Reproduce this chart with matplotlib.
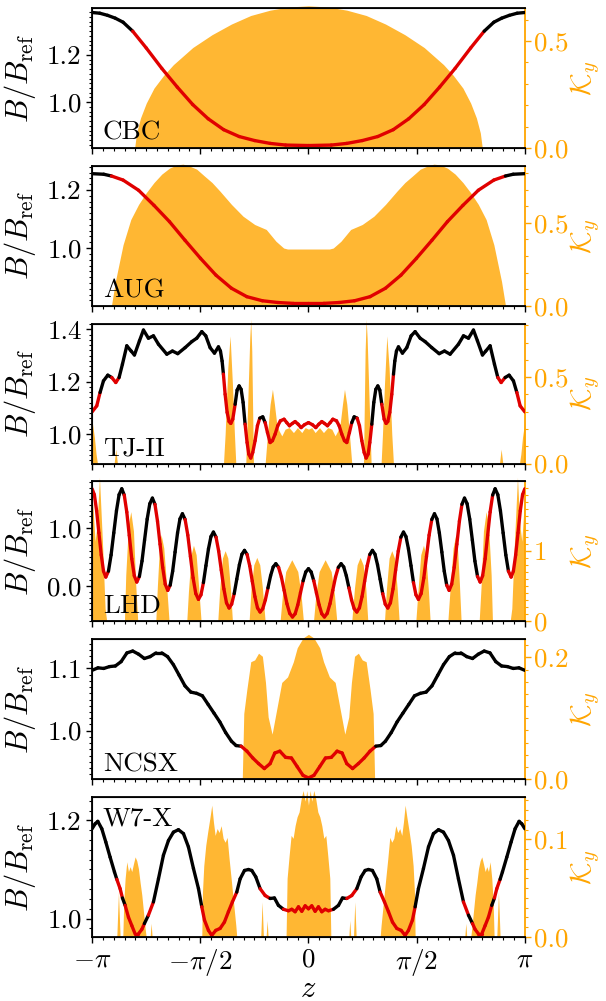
import numpy as np
import matplotlib
matplotlib.use('Agg')
import matplotlib.pyplot as plt
from matplotlib.collections import LineCollection
from matplotlib.ticker import MultipleLocator, FormatStrFormatter

plt.rcParams['font.family'] = 'serif'
plt.rcParams['font.serif'] = ['cmr10']
plt.rcParams['mathtext.fontset'] = 'cm'
plt.rcParams['axes.unicode_minus'] = False
plt.rcParams['axes.formatter.use_mathtext'] = True

# ---------------- datos ----------------
# CBC
zB_cbc = [-3.142, -3.030, -2.917, -2.805, -2.692, -2.552, -2.355, -2.130, -1.905, -1.680, -1.456, -1.231,
          -1.006, -0.781, -0.556, -0.332, 0.0, 0.332, 0.556, 0.781, 1.006, 1.231, 1.456, 1.680, 1.905,
          2.130, 2.355, 2.552, 2.692, 2.805, 2.917, 3.030, 3.142]
B_cbc = [1.379, 1.376, 1.367, 1.355, 1.338, 1.300, 1.229, 1.143, 1.064, 0.990, 0.930, 0.884,
         0.855, 0.838, 0.826, 0.819, 0.817, 0.819, 0.826, 0.838, 0.855, 0.884, 0.930, 0.990, 1.064,
         1.143, 1.229, 1.300, 1.338, 1.355, 1.367, 1.376, 1.379]
zK_cbc = [-2.524, -2.496, -2.439, -2.355, -2.243, -2.102, -1.961, -1.680, -1.400, -1.118, -0.838, -0.556,
          -0.275, 0.0, 0.275, 0.556, 0.838, 1.118, 1.400, 1.680, 1.961, 2.102, 2.243, 2.355, 2.439,
          2.496, 2.524]
K_cbc = [0.0, 0.07, 0.14, 0.21, 0.28, 0.34, 0.39, 0.47, 0.53, 0.58, 0.62, 0.645,
         0.66, 0.665, 0.66, 0.645, 0.62, 0.58, 0.53, 0.47, 0.39, 0.34, 0.28, 0.21, 0.14,
         0.07, 0.0]
red_cbc = [(-2.55, 2.55)]

# AUG
zB_aug = [-3.142, -2.973, -2.861, -2.692, -2.467, -2.243, -2.018, -1.793, -1.568, -1.343, -1.118, -0.894,
          -0.669, -0.444, -0.219, 0.0, 0.219, 0.444, 0.669, 0.894, 1.118, 1.343, 1.568, 1.793, 2.018,
          2.243, 2.467, 2.692, 2.861, 2.973, 3.142]
B_aug = [1.256, 1.254, 1.248, 1.234, 1.199, 1.147, 1.091, 1.027, 0.965, 0.907, 0.862, 0.833,
         0.819, 0.813, 0.810, 0.810, 0.810, 0.813, 0.819, 0.833, 0.862, 0.907, 0.965, 1.027, 1.091,
         1.147, 1.199, 1.234, 1.248, 1.254, 1.256]
zK_aug = [-2.861, -2.804, -2.692, -2.580, -2.467, -2.355, -2.243, -2.130, -2.018, -1.905, -1.821, -1.737,
          -1.624, -1.512, -1.400, -1.287, -1.118, -0.950, -0.781, -0.613, -0.472, -0.360, -0.304, -0.163,
          0.0,
          0.163, 0.304, 0.360, 0.472, 0.613, 0.781, 0.950, 1.118, 1.287, 1.400, 1.512, 1.624,
          1.737, 1.821, 1.905, 2.018, 2.130, 2.243, 2.355, 2.467, 2.580, 2.692, 2.804, 2.861]
K_aug = [0.0, 0.146, 0.368, 0.520, 0.611, 0.682, 0.743, 0.794, 0.830, 0.850, 0.854, 0.844,
         0.824, 0.783, 0.743, 0.692, 0.611, 0.540, 0.490, 0.460, 0.389, 0.348, 0.342, 0.342,
         0.342,
         0.342, 0.342, 0.348, 0.389, 0.460, 0.490, 0.540, 0.611, 0.692, 0.743, 0.783, 0.824,
         0.844, 0.854, 0.850, 0.830, 0.794, 0.743, 0.682, 0.611, 0.520, 0.368, 0.146, 0.0]
red_aug = [(-2.89, 2.89)]

# TJ-II
zB_tj = [-3.142, -3.074, -3.026, -2.977, -2.914, -2.856, -2.798, -2.750, -2.701, -2.638, -2.575, -2.527,
         -2.454, -2.396, -2.324, -2.251, -2.178, -2.057, -1.975, -1.898, -1.791, -1.694, -1.622, -1.549,
         -1.491, -1.428, -1.365, -1.307, -1.278, -1.254, -1.235, -1.210, -1.181, -1.152, -1.128, -1.099,
         -1.065, -1.036, -1.007, -0.978, -0.949, -0.920, -0.891, -0.867, -0.838, -0.809, -0.775, -0.741,
         -0.707, -0.664, -0.629, -0.595, -0.557, -0.523, -0.484, -0.446, -0.407, -0.354, -0.315, -0.276,
         -0.233, -0.194, -0.150, -0.107, -0.058,
         0.0,
         0.058, 0.107, 0.150, 0.194, 0.233, 0.276, 0.315, 0.354, 0.407, 0.446, 0.484, 0.523,
         0.557, 0.595, 0.629, 0.664, 0.707, 0.741, 0.775, 0.809, 0.838, 0.867, 0.891, 0.920,
         0.949, 0.978, 1.007, 1.036, 1.065, 1.099, 1.128, 1.152, 1.181, 1.210, 1.235, 1.254,
         1.278, 1.307, 1.365, 1.428, 1.491, 1.549, 1.622, 1.694, 1.791, 1.898, 1.975, 2.057,
         2.178, 2.251, 2.324, 2.396, 2.454, 2.527, 2.575, 2.638, 2.701, 2.750, 2.798, 2.856,
         2.914, 2.977, 3.026, 3.074, 3.142]
B_tj = [1.085, 1.108, 1.159, 1.203, 1.225, 1.216, 1.197, 1.216, 1.267, 1.337, 1.317, 1.302,
        1.356, 1.397, 1.366, 1.375, 1.343, 1.305, 1.317, 1.307, 1.330, 1.353, 1.366, 1.391,
        1.375, 1.330, 1.309, 1.333, 1.317, 1.279, 1.229, 1.152, 1.083, 1.048, 1.041, 1.057,
        1.114, 1.168, 1.184, 1.171, 1.121, 1.038, 0.968, 0.924, 0.909, 0.930, 0.975, 1.032,
        1.061, 1.066, 1.044, 1.006, 0.968, 0.975, 1.000, 1.032, 1.051, 1.057, 1.044, 1.032,
        1.041, 1.048, 1.038, 1.025, 1.036,
        1.044,
        1.036, 1.025, 1.038, 1.048, 1.041, 1.032, 1.044, 1.057, 1.051, 1.032, 1.000, 0.975,
        0.968, 1.006, 1.044, 1.066, 1.061, 1.032, 0.975, 0.930, 0.909, 0.924, 0.968, 1.038,
        1.121, 1.171, 1.184, 1.168, 1.114, 1.057, 1.041, 1.048, 1.083, 1.152, 1.229, 1.279,
        1.317, 1.333, 1.309, 1.330, 1.375, 1.391, 1.366, 1.353, 1.330, 1.307, 1.317, 1.305,
        1.343, 1.375, 1.366, 1.397, 1.356, 1.302, 1.317, 1.337, 1.267, 1.216, 1.197, 1.216,
        1.225, 1.203, 1.159, 1.108, 1.085]
zK_tj = [-3.142, -3.108, -3.084, -3.064, -2.822, -2.798, -2.774, -1.234, -1.210, -1.171, -1.138, -1.104,
         -1.075, -1.055, -0.910, -0.881, -0.852, -0.838, -0.823, -0.799, -0.629, -0.591, -0.557, -0.523,
         -0.494, -0.460, -0.426, -0.387, -0.339, -0.281, -0.218, -0.160, -0.097, -0.048,
         0.0,
         0.048, 0.097, 0.160, 0.218, 0.281, 0.339, 0.387, 0.426, 0.460, 0.494, 0.523, 0.557,
         0.591, 0.629, 0.799, 0.823, 0.838, 0.852, 0.881, 0.910, 1.055, 1.075, 1.104, 1.138,
         1.171, 1.210, 1.234, 2.774, 2.798, 2.822, 3.064, 3.084, 3.108, 3.142]
K_tj = [0.247, 0.150, 0.054, 0.0, 0.0, 0.083, 0.0, 0.0, 0.17, 0.555, 0.739, 0.459,
        0.17, 0.0, 0.0, 0.363, 0.729, 0.835, 0.652, 0.0, 0.0, 0.189, 0.343, 0.43,
        0.343, 0.228, 0.189, 0.16, 0.199, 0.208, 0.179, 0.208, 0.179, 0.208,
        0.199,
        0.208, 0.179, 0.208, 0.179, 0.208, 0.199, 0.16, 0.189, 0.228, 0.343, 0.43, 0.343,
        0.189, 0.0, 0.0, 0.652, 0.835, 0.729, 0.363, 0.0, 0.0, 0.17, 0.459, 0.739,
        0.555, 0.17, 0.0, 0.0, 0.083, 0.0, 0.0, 0.054, 0.150, 0.247]
red_tj = [(-3.2, -3.026), (-2.84, -2.755), (-1.235, -1.075), (-0.93, -0.717), (-0.629, 0.629),
          (0.717, 0.93), (1.075, 1.235), (2.755, 2.84), (3.026, 3.2)]

# LHD
zB_lhd = [-3.142, -3.109, -3.076, -3.043, -3.009, -2.976,
          -2.943, -2.904, -2.866, -2.827, -2.788, -2.750,
          -2.711, -2.675, -2.638, -2.602, -2.566, -2.529,
          -2.493, -2.455, -2.417, -2.380, -2.342, -2.304,
          -2.266, -2.229, -2.192, -2.155, -2.117, -2.080,
          -2.043, -2.008, -1.972, -1.937, -1.901, -1.866,
          -1.830, -1.791, -1.752, -1.714, -1.675, -1.636,
          -1.597, -1.561, -1.525, -1.489, -1.452, -1.416,
          -1.380, -1.342, -1.304, -1.266, -1.228, -1.190,
          -1.152, -1.115, -1.078, -1.041, -1.003, -0.966,
          -0.929, -0.891, -0.853, -0.816, -0.778, -0.740,
          -0.702, -0.664, -0.626, -0.588, -0.550, -0.512,
          -0.474, -0.434, -0.393, -0.353, -0.313, -0.272,
          -0.232, -0.193, -0.155, -0.116, -0.077, -0.039,
          0.0,
          0.039, 0.077, 0.116, 0.155, 0.193, 0.232,
          0.272, 0.313, 0.353, 0.393, 0.434, 0.474,
          0.512, 0.550, 0.588, 0.626, 0.664, 0.702,
          0.740, 0.778, 0.816, 0.853, 0.891, 0.929,
          0.966, 1.003, 1.041, 1.078, 1.115, 1.152,
          1.190, 1.228, 1.266, 1.304, 1.342, 1.380,
          1.416, 1.452, 1.489, 1.525, 1.561, 1.597,
          1.636, 1.675, 1.714, 1.752, 1.791, 1.830,
          1.866, 1.901, 1.937, 1.972, 2.008, 2.043,
          2.080, 2.117, 2.155, 2.192, 2.229, 2.266,
          2.304, 2.342, 2.380, 2.417, 2.455, 2.493,
          2.529, 2.566, 2.602, 2.638, 2.675, 2.711,
          2.750, 2.788, 2.827, 2.866, 2.904, 2.943,
          2.976, 3.009, 3.043, 3.076, 3.109, 3.142]
B_lhd = [1.678, 1.576, 1.297, 0.917, 0.536, 0.257,
         0.155, 0.257, 0.536, 0.917, 1.297, 1.576,
         1.678, 1.570, 1.276, 0.874, 0.471, 0.177,
         0.069, 0.166, 0.431, 0.793, 1.155, 1.420,
         1.517, 1.410, 1.119, 0.721, 0.323, 0.032,
         -0.075, 0.014, 0.256, 0.586, 0.916, 1.158,
         1.247, 1.148, 0.878, 0.509, 0.139, -0.131,
         -0.230, -0.152, 0.060, 0.351, 0.641, 0.853,
         0.931, 0.843, 0.603, 0.276, -0.051, -0.291,
         -0.379, -0.312, -0.130, 0.118, 0.366, 0.548,
         0.615, 0.544, 0.349, 0.084, -0.182, -0.377,
         -0.448, -0.392, -0.240, -0.032, 0.177, 0.329,
         0.385, 0.323, 0.155, -0.075, -0.304, -0.472,
         -0.534, -0.478, -0.326, -0.118, 0.091, 0.243,
         0.299,
         0.243, 0.091, -0.118, -0.326, -0.478, -0.534,
         -0.472, -0.304, -0.075, 0.155, 0.323, 0.385,
         0.329, 0.177, -0.032, -0.240, -0.392, -0.448,
         -0.377, -0.182, 0.084, 0.349, 0.544, 0.615,
         0.548, 0.366, 0.118, -0.130, -0.312, -0.379,
         -0.291, -0.051, 0.276, 0.603, 0.843, 0.931,
         0.853, 0.641, 0.351, 0.060, -0.152, -0.230,
         -0.131, 0.139, 0.509, 0.878, 1.148, 1.247,
         1.158, 0.916, 0.586, 0.256, 0.014, -0.075,
         0.032, 0.323, 0.721, 1.119, 1.410, 1.517,
         1.420, 1.155, 0.793, 0.431, 0.166, 0.069,
         0.177, 0.471, 0.874, 1.276, 1.570, 1.678,
         1.576, 1.297, 0.917, 0.536, 0.257, 0.155,
         0.257, 0.536, 0.917, 1.297, 1.576, 1.678]
zK_lhd = [-3.142, -3.098, -3.069, -3.035, -2.992, -2.953, -2.929,
          -2.672, -2.653, -2.614, -2.580, -2.541, -2.508, -2.479,
          -2.217, -2.193, -2.164, -2.140, -2.101, -2.057, -2.024,
          -1.767, -1.743, -1.704, -1.670, -1.631, -1.593, -1.559,
          -1.317, -1.288, -1.249, -1.210, -1.171, -1.133, -1.104,
          -0.862, -0.833, -0.794, -0.750, -0.707, -0.668, -0.629,
          -0.412, -0.378, -0.330, -0.242, -0.155, -0.107, -0.073,
          0.0,
          0.073, 0.107, 0.155, 0.242, 0.330, 0.378, 0.412,
          0.629, 0.668, 0.707, 0.750, 0.794, 0.833, 0.862,
          1.104, 1.133, 1.171, 1.210, 1.249, 1.288, 1.317,
          1.559, 1.593, 1.631, 1.670, 1.704, 1.743, 1.767,
          2.024, 2.057, 2.101, 2.140, 2.164, 2.193, 2.217,
          2.479, 2.508, 2.541, 2.580, 2.614, 2.653, 2.672,
          2.929, 2.953, 2.992, 3.035, 3.069, 3.098, 3.142]
K_lhd = [1.809, 1.139, 1.378, 2.048, 1.139, 0.182, 0.0,
         0.0, 0.660, 1.378, 1.560, 1.283, 0.517, 0.0,
         0.0, 0.517, 1.043, 1.235, 1.043, 0.469, 0.0,
         0.0, 0.421, 0.948, 1.082, 0.948, 0.469, 0.0,
         0.0, 0.469, 0.900, 1.005, 0.900, 0.469, 0.0,
         0.0, 0.469, 0.804, 0.909, 0.804, 0.469, 0.0,
         0.0, 0.373, 0.708, 0.876, 0.708, 0.373, 0.0,
         0.0,
         0.0, 0.373, 0.708, 0.876, 0.708, 0.373, 0.0,
         0.0, 0.469, 0.804, 0.909, 0.804, 0.469, 0.0,
         0.0, 0.469, 0.900, 1.005, 0.900, 0.469, 0.0,
         0.0, 0.469, 0.948, 1.082, 0.948, 0.421, 0.0,
         0.0, 0.469, 1.043, 1.235, 1.043, 0.517, 0.0,
         0.0, 0.517, 1.283, 1.560, 1.378, 0.660, 0.0,
         0.0, 0.182, 1.139, 2.048, 1.378, 1.139, 1.809]
red_lhd = [(-3.2, -2.914), (-2.672, -2.445), (-2.217, -1.994), (-1.791, -1.539), (-1.346, -1.075),
           (-0.881, -0.591), (-0.436, -0.075), (0.075, 0.436), (0.591, 0.881), (1.075, 1.346),
           (1.539, 1.791), (1.994, 2.217), (2.445, 2.672), (2.914, 3.2)]

# NCSX
zB_ncsx = [-3.142, -3.057, -2.973, -2.889, -2.804, -2.720, -2.636, -2.552, -2.467, -2.383, -2.299, -2.214,
           -2.130, -2.046, -1.961, -1.877, -1.793, -1.709, -1.624, -1.540, -1.456, -1.371, -1.287, -1.203,
           -1.118, -1.051, -0.978, -0.894, -0.809, -0.725, -0.641, -0.556, -0.489, -0.416, -0.332, -0.247,
           -0.163, -0.079,
           0.0,
           0.079, 0.163, 0.247, 0.332, 0.416, 0.489, 0.556, 0.641, 0.725, 0.809, 0.894, 0.978,
           1.051, 1.118, 1.203, 1.287, 1.371, 1.456, 1.540, 1.624, 1.709, 1.793, 1.877, 1.961,
           2.046, 2.130, 2.214, 2.299, 2.383, 2.467, 2.552, 2.636, 2.720, 2.804, 2.889, 2.973,
           3.057, 3.142]
B_ncsx = [1.097, 1.101, 1.100, 1.103, 1.104, 1.111, 1.125, 1.128, 1.123, 1.116, 1.119, 1.125,
          1.125, 1.119, 1.106, 1.089, 1.072, 1.062, 1.060, 1.056, 1.042, 1.028, 1.014, 0.997,
          0.983, 0.976, 0.975, 0.967, 0.956, 0.947, 0.939, 0.947, 0.964, 0.967, 0.957, 0.956,
          0.942, 0.928,
          0.924,
          0.928, 0.942, 0.956, 0.957, 0.967, 0.964, 0.947, 0.939, 0.947, 0.956, 0.967, 0.975,
          0.976, 0.983, 0.997, 1.014, 1.028, 1.042, 1.056, 1.060, 1.062, 1.072, 1.089, 1.106,
          1.119, 1.125, 1.125, 1.119, 1.116, 1.123, 1.128, 1.125, 1.111, 1.104, 1.103, 1.100,
          1.101, 1.097]
zK_ncsx = [-0.961, -0.939, -0.894, -0.838, -0.781, -0.725, -0.669, -0.624, -0.585, -0.528, -0.472, -0.388,
           -0.304, -0.219, -0.163, -0.079,
           0.0,
           0.079, 0.163, 0.219, 0.304, 0.388, 0.472, 0.528, 0.585, 0.624, 0.669, 0.725, 0.781,
           0.838, 0.894, 0.939, 0.961]
K_ncsx = [0.0, 0.108, 0.148, 0.193, 0.196, 0.207, 0.202, 0.159, 0.102, 0.074, 0.108, 0.159,
          0.168, 0.193, 0.216, 0.232,
          0.238,
          0.232, 0.216, 0.193, 0.168, 0.159, 0.108, 0.074, 0.102, 0.159, 0.202, 0.207, 0.196,
          0.193, 0.148, 0.108, 0.0]
red_ncsx = [(-0.98, 0.98)]

# W7-X
zB_w7x = [-3.142, -3.098, -3.059, -3.001, -2.943, -2.880, -2.817, -2.783, -2.735, -2.701, -2.662, -2.614,
          -2.566, -2.517, -2.469, -2.420, -2.382, -2.324, -2.251, -2.178, -2.106, -2.033, -1.961, -1.888,
          -1.815, -1.743, -1.670, -1.597, -1.549, -1.510, -1.452, -1.404, -1.346, -1.283, -1.220, -1.162,
          -1.104, -1.041, -0.992, -0.929, -0.871, -0.823, -0.765, -0.702, -0.629, -0.557, -0.494, -0.436,
          -0.363, -0.291, -0.242, -0.194, -0.145, -0.097, -0.048,
          0.0,
          0.048, 0.097, 0.145, 0.194, 0.242, 0.291, 0.363, 0.436, 0.494, 0.557, 0.629, 0.702,
          0.765, 0.823, 0.871, 0.929, 0.992, 1.041, 1.104, 1.162, 1.220, 1.283, 1.346, 1.404,
          1.452, 1.510, 1.549, 1.597, 1.670, 1.743, 1.815, 1.888, 1.961, 2.033, 2.106, 2.178,
          2.251, 2.324, 2.382, 2.420, 2.469, 2.517, 2.566, 2.614, 2.662, 2.701, 2.735, 2.783,
          2.817, 2.880, 2.943, 3.001, 3.059, 3.098, 3.142]
B_w7x = [1.183, 1.193, 1.198, 1.183, 1.156, 1.125, 1.095, 1.080, 1.061, 1.042, 1.027, 1.003,
         0.986, 0.969, 0.969, 0.978, 0.990, 1.007, 1.034, 1.081, 1.129, 1.159, 1.176, 1.181,
         1.173, 1.146, 1.102, 1.061, 1.024, 0.997, 0.976, 0.966, 0.976, 0.980, 0.993, 1.014,
         1.034, 1.054, 1.081, 1.098, 1.100, 1.098, 1.085, 1.061, 1.047, 1.041, 1.042, 1.027,
         1.019, 1.016, 1.019, 1.014, 1.024, 1.015, 1.026,
         1.020,
         1.026, 1.015, 1.024, 1.014, 1.019, 1.016, 1.019, 1.027, 1.042, 1.041, 1.047, 1.061,
         1.085, 1.098, 1.100, 1.098, 1.081, 1.054, 1.034, 1.014, 0.993, 0.980, 0.976, 0.966,
         0.976, 0.997, 1.024, 1.061, 1.102, 1.146, 1.173, 1.181, 1.176, 1.159, 1.129, 1.081,
         1.034, 1.007, 0.990, 0.978, 0.969, 0.969, 0.986, 1.003, 1.027, 1.042, 1.061, 1.080,
         1.095, 1.125, 1.156, 1.183, 1.198, 1.193, 1.183]
zK_w7x = [-2.783, -2.759, -2.735,
          -2.696, -2.682, -2.662, -2.638, -2.614, -2.590, -2.566, -2.541, -2.517, -2.493, -2.469, -2.445,
          -2.420, -2.396, -2.372, -2.357,
          -2.299, -2.285, -2.270,
          -1.549, -1.539, -1.520, -1.491, -1.462, -1.433, -1.404, -1.380, -1.355, -1.326, -1.297, -1.268,
          -1.239, -1.210, -1.181, -1.152, -1.123, -1.089, -1.055, -1.041,
          -0.693, -0.673, -0.654,
          -0.615, -0.600, -0.586,
          -0.325, -0.310, -0.281, -0.252, -0.223, -0.194, -0.165, -0.136, -0.107, -0.078, -0.048, -0.024,
          0.0,
          0.024, 0.048, 0.078, 0.107, 0.136, 0.165, 0.194, 0.223, 0.252, 0.281, 0.310, 0.325,
          0.586, 0.600, 0.615,
          0.654, 0.673, 0.693,
          1.041, 1.055, 1.089, 1.123, 1.152, 1.181, 1.210, 1.239, 1.268, 1.297, 1.326, 1.355,
          1.380, 1.404, 1.433, 1.462, 1.491, 1.520, 1.539, 1.549,
          2.270, 2.285, 2.299,
          2.357, 2.372, 2.396, 2.420, 2.445, 2.469, 2.493, 2.517, 2.541, 2.566, 2.590, 2.614,
          2.638, 2.662, 2.682, 2.696,
          2.735, 2.759, 2.783]
K_w7x = [0.0, 0.046, 0.0,
         0.0, 0.036, 0.060, 0.077, 0.067, 0.072, 0.067, 0.075, 0.082, 0.078, 0.070, 0.056,
         0.043, 0.026, 0.009, 0.0,
         0.0, 0.014, 0.0,
         0.0, 0.046, 0.073, 0.094, 0.108, 0.121, 0.135, 0.118, 0.104, 0.111, 0.107, 0.114,
         0.101, 0.097, 0.102, 0.080, 0.060, 0.036, 0.012, 0.0,
         0.0, 0.036, 0.0,
         0.0, 0.017, 0.0,
         0.0, 0.060, 0.083, 0.104, 0.101, 0.114, 0.123, 0.128, 0.141, 0.150, 0.139, 0.150,
         0.135,
         0.150, 0.139, 0.150, 0.141, 0.128, 0.123, 0.114, 0.101, 0.104, 0.083, 0.060, 0.0,
         0.0, 0.017, 0.0,
         0.0, 0.036, 0.0,
         0.0, 0.012, 0.036, 0.060, 0.080, 0.102, 0.097, 0.101, 0.114, 0.107, 0.111, 0.104,
         0.118, 0.135, 0.121, 0.108, 0.094, 0.073, 0.046, 0.0,
         0.0, 0.014, 0.0,
         0.0, 0.009, 0.026, 0.043, 0.056, 0.070, 0.078, 0.082, 0.075, 0.067, 0.072, 0.067,
         0.077, 0.060, 0.036, 0.0,
         0.0, 0.046, 0.0]
red_w7x = [(-2.798, -2.701), (-2.672, -2.372), (-2.323, -2.251), (-1.549, -1.041), (-0.726, -0.557),
           (-0.364, 0.364), (0.557, 0.726), (1.041, 1.549), (2.251, 2.323), (2.372, 2.672),
           (2.701, 2.798)]

nombres = ['CBC', 'AUG', 'TJ-II', 'LHD', 'NCSX', 'W7-X']
datos_B = [(zB_cbc, B_cbc), (zB_aug, B_aug), (zB_tj, B_tj), (zB_lhd, B_lhd), (zB_ncsx, B_ncsx), (zB_w7x, B_w7x)]
datos_K = [(zK_cbc, K_cbc), (zK_aug, K_aug), (zK_tj, K_tj), (zK_lhd, K_lhd), (zK_ncsx, K_ncsx), (zK_w7x, K_w7x)]
rojos = [red_cbc, red_aug, red_tj, red_lhd, red_ncsx, red_w7x]

# limites y ticks de cada panel
lim_B = [(0.807, 1.398), (0.802, 1.283), (0.888, 1.4216), (-0.609, 1.805), (0.922, 1.147), (0.9627, 1.2475)]
lim_K = [0.655, 0.844, 0.81, 1.99, 0.230, 0.1433]
paso_B = [0.2, 0.2, 0.2, 1.0, 0.1, 0.2]
paso_K = [0.5, 0.5, 0.5, 1.0, 0.2, 0.1]
menor_K = [0.1, 0.1, 0.1, 0.1, 0.02, 0.01]
fmt_K = ['%.1f', '%.1f', '%.1f', '%g', '%.1f', '%.1f']

NARANJA = '#FFA500'
ROJO = '#e00000'

fig = plt.figure(figsize=(6.06, 10.01), dpi=100)
gs = fig.add_gridspec(6, 1, left=0.152, right=0.866, top=0.992, bottom=0.064, hspace=0.128)

for i in range(6):
    ax = fig.add_subplot(gs[i])
    ax2 = ax.twinx()
    ax.set_zorder(ax2.get_zorder() + 1)  # la curva por encima del relleno
    ax.patch.set_visible(False)

    zK, K = datos_K[i]
    ax2.fill_between(zK, K, color=NARANJA, alpha=0.8, linewidth=0, clip_on=False)
    ax2.set_ylim(0, lim_K[i])

    # curva B coloreada por tramos
    z, B = np.array(datos_B[i][0]), np.array(datos_B[i][1])
    pts = np.column_stack([z, B])
    segs = np.stack([pts[:-1], pts[1:]], axis=1)
    zm = 0.5 * (z[:-1] + z[1:])
    colores = []
    for m in zm:
        if any(a <= m <= b for a, b in rojos[i]):
            colores.append(ROJO)
        else:
            colores.append('black')
    lc = LineCollection(segs, colors=colores, linewidths=2.4, capstyle='round', joinstyle='round')
    ax.add_collection(lc)

    ax.set_xlim(-np.pi, np.pi)
    ax.set_ylim(*lim_B[i])

    # ejes y ticks
    ax.set_xticks([-np.pi, -np.pi / 2, 0, np.pi / 2, np.pi])
    ax.xaxis.set_minor_locator(MultipleLocator(np.pi / 20))
    if i == 5:
        ax.set_xticklabels([r'$-\pi$', r'$-\pi/2$', r'$0$', r'$\pi/2$', r'$\pi$'])
        ax.set_xlabel(r'$z$', fontsize=22, labelpad=-2)
    else:
        ax.set_xticklabels([])
    ax.yaxis.set_major_locator(MultipleLocator(paso_B[i]))
    ax.yaxis.set_minor_locator(MultipleLocator(paso_B[i] / 10))
    ax.yaxis.set_major_formatter(FormatStrFormatter('%.1f'))
    ax2.yaxis.set_major_locator(MultipleLocator(paso_K[i]))
    ax2.yaxis.set_minor_locator(MultipleLocator(menor_K[i]))
    ax2.yaxis.set_major_formatter(FormatStrFormatter(fmt_K[i]))

    ax.tick_params(which='major', labelsize=19.5, length=4, width=1.0)
    ax.tick_params(which='minor', length=2, width=0.8)
    ax2.tick_params(axis='y', which='major', labelsize=19.5, length=4, width=1.0, pad=2.5, colors=NARANJA)
    ax2.tick_params(axis='y', which='minor', length=2, width=0.8, colors=NARANJA)

    ax.spines['right'].set_visible(False)
    ax2.spines['right'].set_color(NARANJA)
    for s in ['top', 'bottom', 'left']:
        ax.spines[s].set_linewidth(1.3)
    ax2.spines['right'].set_linewidth(1.3)

    ax.set_ylabel(r'$B/B_{\mathrm{ref}}$', fontsize=22)
    ax.yaxis.set_label_coords(-0.125, 0.5)
    ax2.set_ylabel(r'$\mathcal{K}_y$', fontsize=21, color=NARANJA)
    ax2.yaxis.set_label_coords(1.10, 0.5)

    # nombre del dispositivo
    if nombres[i] == 'W7-X':
        ax.text(0.025, 0.80, nombres[i], transform=ax.transAxes, fontsize=19.5, va='baseline')
    else:
        ax.text(0.025, 0.057, nombres[i], transform=ax.transAxes, fontsize=19.5, va='baseline')

plt.savefig('out.png', dpi=100)
